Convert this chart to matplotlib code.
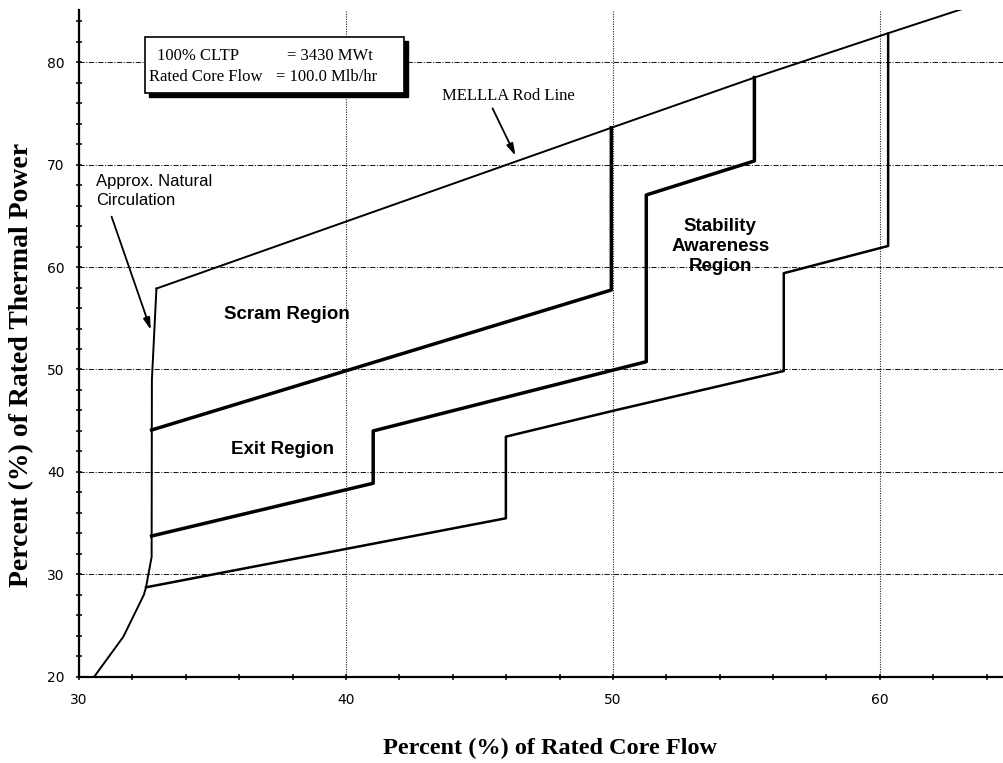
import matplotlib
matplotlib.use("Agg")
import matplotlib.pyplot as plt
from matplotlib.patches import Rectangle
from matplotlib.ticker import MultipleLocator
from matplotlib.transforms import offset_copy

# values (percent of rated core flow, percent of rated power)
nat_circ_flow = [30.57, 31.66, 32.43, 32.51, 32.72, 32.73, 32.90]
nat_circ_power = [20.0, 23.9, 28.0, 28.73, 31.7, 49.0, 57.9]

mellla_flow = [32.90, 49.94, 55.30, 60.27, 63.09]
mellla_power = [57.9, 73.6, 78.5, 82.8, 85.2]

scram_flow = [32.72, 49.94, 49.94]
scram_power = [44.09, 57.76, 73.6]

exit_flow = [32.72, 41.02, 41.02, 51.25, 51.25, 55.30, 55.30]
exit_power = [33.74, 38.89, 44.0, 50.76, 67.04, 70.36, 78.5]

stab_flow = [32.51, 45.99, 45.99, 50.03, 56.40, 56.40, 60.31, 60.31]
stab_power = [28.73, 35.47, 43.44, 45.98, 49.85, 59.4, 62.06, 82.8]

x_major = [30, 40, 50, 60]
y_major = [20, 30, 40, 50, 60, 70, 80]

SERIF = "Liberation Serif"
SANS = "Liberation Sans"

fig = plt.figure(figsize=(10.04, 7.63), dpi=100)
ax = fig.add_axes([0.0787, 0.1131, 0.9213, 0.8738])

ax.plot(nat_circ_flow, nat_circ_power, color="black", lw=1.4, zorder=4)
ax.plot(mellla_flow, mellla_power, color="black", lw=1.4, zorder=4)
ax.plot(scram_flow, scram_power, color="black", lw=2.5, zorder=4)
ax.plot(exit_flow, exit_power, color="black", lw=2.5, zorder=4)
ax.plot(stab_flow, stab_power, color="black", lw=1.8, zorder=4)

ax.set_xlim(30, 64.65)
ax.set_ylim(20, 85.1)
ax.set_xticks(x_major)
ax.set_yticks(y_major)
ax.xaxis.set_minor_locator(MultipleLocator(2))
ax.yaxis.set_minor_locator(MultipleLocator(2))
ax.tick_params(which="both", direction="inout", length=5, width=1.1, colors="black")
ax.tick_params(axis="x", labelsize=10, pad=9)
ax.tick_params(axis="y", labelsize=10, pad=8)

ax.grid(axis="y", which="major", ls=(0, (5, 1.5, 1, 1.5)), lw=0.75, color="0.1")
ax.grid(axis="x", which="major", ls=(0, (1, 1.2)), lw=0.8, color="0.15")

for side in ["top", "right"]:
    ax.spines[side].set_visible(False)
for side in ["left", "bottom"]:
    ax.spines[side].set_linewidth(1.6)

# info box with drop shadow
shadow = Rectangle((32.49, 77.0), 9.68, 5.5, facecolor="black", edgecolor="black",
                   transform=offset_copy(ax.transData, fig=fig, x=4, y=-4, units="dots"),
                   zorder=5)
box = Rectangle((32.49, 77.0), 9.68, 5.5, facecolor="white", edgecolor="black",
                lw=1.2, zorder=6)
ax.add_patch(shadow)
ax.add_patch(box)
ax.text(32.93, 80.61, "100% CLTP", family=SERIF, fontsize=12, va="center", zorder=7)
ax.text(37.79, 80.61, "= 3430 MWt", family=SERIF, fontsize=12, va="center", zorder=7)
ax.text(32.62, 78.56, "Rated Core Flow", family=SERIF, fontsize=12, va="center", zorder=7)
ax.text(37.38, 78.56, "= 100.0 Mlb/hr", family=SERIF, fontsize=12, va="center", zorder=7)

arrow = dict(arrowstyle="-|>,head_length=0.7,head_width=0.2", lw=1.3, color="black",
             shrinkA=0, shrinkB=0)
ax.text(43.61, 76.74, "MELLLA Rod Line", family=SERIF, fontsize=12, va="center", zorder=7)
ax.annotate("", xy=(46.35, 70.87), xytext=(45.49, 75.5), arrowprops=arrow, zorder=7)

ax.text(30.63, 68.34, "Approx. Natural", family=SANS, fontsize=12, va="center", zorder=7)
ax.text(30.63, 66.46, "Circulation", family=SANS, fontsize=12, va="center", zorder=7)
ax.annotate("", xy=(32.69, 53.86), xytext=(31.22, 64.92), arrowprops=arrow, zorder=7)

ax.text(37.77, 55.32, "Scram Region", family=SANS, fontsize=13.5, weight="bold",
        ha="center", va="center", zorder=7)
ax.text(37.64, 42.14, "Exit Region", family=SANS, fontsize=13.5, weight="bold",
        ha="center", va="center", zorder=7)
ax.text(54.02, 62.0, "Stability\nAwareness\nRegion", family=SANS, fontsize=13.5,
        weight="bold", ha="center", va="center", linespacing=1.25, zorder=7)

for lab in ax.get_xticklabels() + ax.get_yticklabels():
    lab.set_family("DejaVu Sans")

fig.text(383 / 1004, 1 - 748 / 763, "Percent (%) of Rated Core Flow", family=SERIF,
         fontsize=17.5, weight="bold", ha="left", va="center")
fig.text(22 / 1004, 1 - 587 / 763, "Percent (%) of Rated Thermal Power", family=SERIF,
         fontsize=20, weight="bold", ha="center", va="bottom", rotation=90)

fig.savefig("out.png", dpi=100)
